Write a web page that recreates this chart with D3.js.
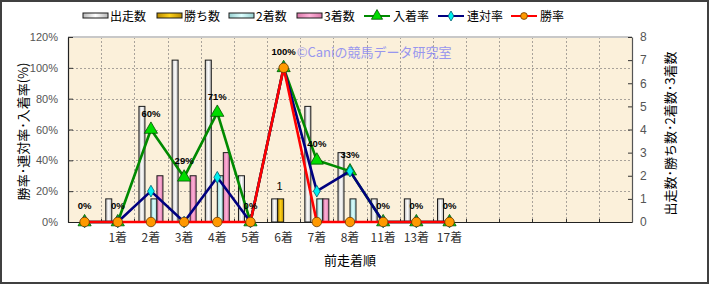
<!DOCTYPE html>
<html><head><meta charset="utf-8">
<script src="https://cdn.jsdelivr.net/npm/d3@7"></script>
<style>body{margin:0;background:#fff}svg{display:block}</style>
</head><body>
<script>
// ---- data ----
const categories = ["", "1着","2着","3着","4着","5着","6着","7着","8着","11着","13着","17着","","","","",""];
const starts  = [0,1,5,7,7,2,1,5,3,1,1,1];
const wins    = [0,0,0,0,0,0,1,0,0,0,0,0];
const seconds = [0,0,1,0,2,0,0,1,1,0,0,0];
const thirds  = [0,0,2,2,3,0,0,1,0,0,0,0];
const placeRate  = [0,0,60,29,71,0,100,40,33,0,0,0];
const rentaiRate = [0,0,20,0,29,0,100,20,33,0,0,0];
const winRate    = [0,0,0,0,0,0,100,0,0,0,0,0];
const leftTicks  = [0,20,40,60,80,100,120];
const rightTicks = [0,1,2,3,4,5,6,7,8];
const barNames  = ["出走数","勝ち数","2着数","3着数"];
const lineNames = ["入着率","連対率","勝率"];

// ---- layout ----
const W = 710, H = 285;
const L = 68, R = 632, T = 37, B = 222;
const JP = "'Noto Sans CJK JP','Noto Sans',sans-serif";
const barLegendX = [83,157,229,297];
const lineLegendX = [364,438,511];

const svg = d3.select("body").append("svg").attr("width", W).attr("height", H);
const defs = svg.append("defs");

const barStyles = [
  {c0:"#b8b8b8", c1:"#ffffff", id:"gW"},
  {c0:"#b88a00", c1:"#ffd21a", id:"gG"},
  {c0:"#98d0d0", c1:"#dcffff", id:"gC"},
  {c0:"#d878a8", c1:"#ffb0d8", id:"gP"}
];
barStyles.forEach(s => {
  const g = defs.append("linearGradient").attr("id", s.id).attr("x1","0").attr("x2","1").attr("y1","0").attr("y2","0");
  g.append("stop").attr("offset","0").attr("stop-color", s.c0);
  g.append("stop").attr("offset","0.5").attr("stop-color", s.c1);
  g.append("stop").attr("offset","1").attr("stop-color", s.c0);
});

// outer frame
svg.append("rect").attr("x",1).attr("y",1).attr("width",W-3).attr("height",H-3)
  .attr("fill","#fff").attr("stroke","#404040").attr("stroke-width",2);

// scales
const x = d3.scaleBand().domain(d3.range(categories.length)).range([L, R]).padding(0);
const bw = x.bandwidth();
const xi = d3.scaleBand().domain([0,1,2,3]).range([0, 24]);
const yL = d3.scaleLinear().domain([0,120]).range([B, T]);
const yR = d3.scaleLinear().domain([0,8]).range([B, T]);

// plot background
svg.append("rect").attr("x",L).attr("y",T).attr("width",R-L).attr("height",B-T).attr("fill","#fbf0da");

// gridlines
const grid = svg.append("g").attr("stroke","#a8a29a").attr("stroke-width",1).attr("stroke-dasharray","2,2");
grid.selectAll("line.h").data(leftTicks.filter(d => d > 0 && d < 120)).join("line")
  .attr("x1",L).attr("x2",R).attr("y1",d => Math.round(yL(d))+0.5).attr("y2",d => Math.round(yL(d))+0.5);
grid.selectAll("line.v").data(d3.range(1, categories.length)).join("line")
  .attr("y1",T).attr("y2",B).attr("x1",d => Math.round(x(d))+0.5).attr("x2",d => Math.round(x(d))+0.5);

// top border line
svg.append("line").attr("x1",L).attr("x2",R).attr("y1",T).attr("y2",T).attr("stroke","#c8c8c8").attr("stroke-width",2);

// watermark
svg.append("text").attr("x", x(6)+bw/2+13).attr("y", 57)
  .attr("font-family", JP).attr("font-size", 13).attr("fill","#8080f4").attr("opacity",0.8)
  .text("©Caniの競馬データ研究室");

// bars
const barSeries = [starts, wins, seconds, thirds];
barSeries.forEach((arr, k) => {
  svg.append("g").selectAll("rect").data(arr.map((v,i)=>({v,i})).filter(d => d.v > 0)).join("rect")
    .attr("x", d => x(d.i) + (bw-24)/2 + xi(k))
    .attr("width", xi.bandwidth())
    .attr("y", d => yR(d.v))
    .attr("height", d => B - yR(d.v))
    .attr("fill", `url(#${barStyles[k].id})`)
    .attr("stroke", "#1a1a1a").attr("stroke-width", 1);
});
// label on wins bars
svg.append("g").selectAll("text").data(wins.map((v,i)=>({v,i})).filter(d => d.v > 0)).join("text")
  .attr("x", d => x(d.i) + (bw-24)/2 + xi(1) + xi.bandwidth()/2 - 1)
  .attr("y", d => yR(d.v) - 9)
  .attr("text-anchor","middle").attr("font-family","'Liberation Sans',Arial,sans-serif").attr("font-size",11)
  .attr("fill","#000").text(d => d.v);

// axes
const axL = svg.append("g").attr("transform",`translate(${L},0)`)
  .call(d3.axisLeft(yL).tickValues(leftTicks).tickFormat(d => d + "%").tickSizeInner(-5).tickSizeOuter(0).tickPadding(10));
const axR = svg.append("g").attr("transform",`translate(${R},0)`)
  .call(d3.axisRight(yR).tickValues(rightTicks).tickSizeInner(-4).tickSizeOuter(0).tickPadding(8));
const axB = svg.append("g").attr("transform",`translate(0,${B})`)
  .call(d3.axisBottom(x).tickFormat(i => categories[i]).tickSize(0).tickPadding(11));
[axL, axR, axB].forEach(a => {
  a.selectAll("text").attr("font-family", JP).attr("fill","#333");
  a.select(".domain").attr("stroke","#222").attr("stroke-width",1.2);
  a.selectAll(".tick line").attr("stroke","#333");
});
axL.selectAll("text").attr("font-family","'Liberation Sans',Arial,sans-serif").attr("font-size",11).attr("fill","#555");
axR.selectAll("text").attr("font-family","'Liberation Sans',Arial,sans-serif").attr("font-size",12).attr("fill","#555");
axB.selectAll("text").attr("font-size",12).attr("fill","#333");
axR.select(".domain").attr("stroke","#555");
// small ticks on bottom axis at band boundaries
svg.append("g").selectAll("line").data(d3.range(1, categories.length)).join("line")
  .attr("x1",d => Math.round(x(d))+0.5).attr("x2",d => Math.round(x(d))+0.5)
  .attr("y1",B-3).attr("y2",B).attr("stroke","#333");

// lines
const lineSeries = [
  {data: placeRate,  color:"#008a00", marker:"triangle"},
  {data: rentaiRate, color:"#00007f", marker:"diamond"},
  {data: winRate,    color:"#ff0000", marker:"circle"}
];
function drawMarker(sel, type, size) {
  if (type === "triangle") {
    sel.append("path").attr("d", d3.symbol(d3.symbolTriangle, size*15)())
      .attr("fill","#00dd00").attr("stroke","#005000").attr("stroke-width",0.8);
  } else if (type === "diamond") {
    sel.append("path").attr("d", d3.symbol(d3.symbolDiamond, size*8)())
      .attr("fill","#00f0f0").attr("stroke","#006070").attr("stroke-width",0.8);
  } else {
    sel.append("circle").attr("r", size*0.95).attr("fill","#ff9900").attr("stroke","#6a3a00").attr("stroke-width",0.8);
  }
}
const lineGen = d3.line().x((d,i) => x(i) + bw/2).y(d => yL(d));
lineSeries.forEach(s => {
  svg.append("path").datum(s.data).attr("d", lineGen)
    .attr("fill","none").attr("stroke", s.color).attr("stroke-width", 2.6).attr("stroke-linejoin","round");
  const g = svg.append("g");
  s.data.forEach((v,i) => {
    const m = g.append("g").attr("transform", `translate(${x(i)+bw/2},${yL(v)})`);
    drawMarker(m, s.marker, 5);
  });
});

// data labels for 入着率
svg.append("g").selectAll("text").data(placeRate).join("text")
  .attr("x", (d,i) => x(i) + bw/2)
  .attr("y", d => yL(d) - 13)
  .attr("text-anchor","middle")
  .attr("font-family","'Liberation Sans',Arial,sans-serif").attr("font-weight","bold").attr("font-size",9.5)
  .attr("fill","#000").text(d => d + "%");

// axis titles
svg.append("text").attr("transform",`translate(22,${(T+B)/2+2}) rotate(-90)`)
  .attr("text-anchor","middle").attr("dominant-baseline","central").attr("font-family",JP).attr("font-size",13).attr("fill","#000")
  .text("勝率･連対率･入着率(%)");
svg.append("text").attr("transform",`translate(669,${(T+B)/2+4}) rotate(-90)`)
  .attr("text-anchor","middle").attr("dominant-baseline","central").attr("font-family",JP).attr("font-size",13).attr("fill","#000")
  .text("出走数･勝ち数･2着数･3着数");
svg.append("text").attr("x",(L+R)/2).attr("y",265).attr("text-anchor","middle")
  .attr("font-family",JP).attr("font-size",13).attr("fill","#000").text("前走着順");

// legend
const leg = svg.append("g");
const ly = 16;
barNames.forEach((n,k) => {
  const lx = barLegendX[k];
  leg.append("rect").attr("x",lx).attr("y",ly-3).attr("width",25).attr("height",5)
    .attr("fill",`url(#${barStyles[k].id})`).attr("stroke","#1a1a1a").attr("stroke-width",1);
  leg.append("text").attr("x",lx+27).attr("y",ly+5).attr("font-family",JP).attr("font-size",12).attr("fill","#000").text(n);
});
lineNames.forEach((n,k) => {
  const s = lineSeries[k];
  const lx = lineLegendX[k];
  leg.append("line").attr("x1",lx).attr("x2",lx+26).attr("y1",ly).attr("y2",ly).attr("stroke",s.color).attr("stroke-width",2);
  const m = leg.append("g").attr("transform",`translate(${lx+13},${ly})`);
  drawMarker(m, s.marker, 3.6);
  leg.append("text").attr("x",lx+29).attr("y",ly+5).attr("font-family",JP).attr("font-size",12).attr("fill","#000").text(n);
});
</script>
</body></html>
